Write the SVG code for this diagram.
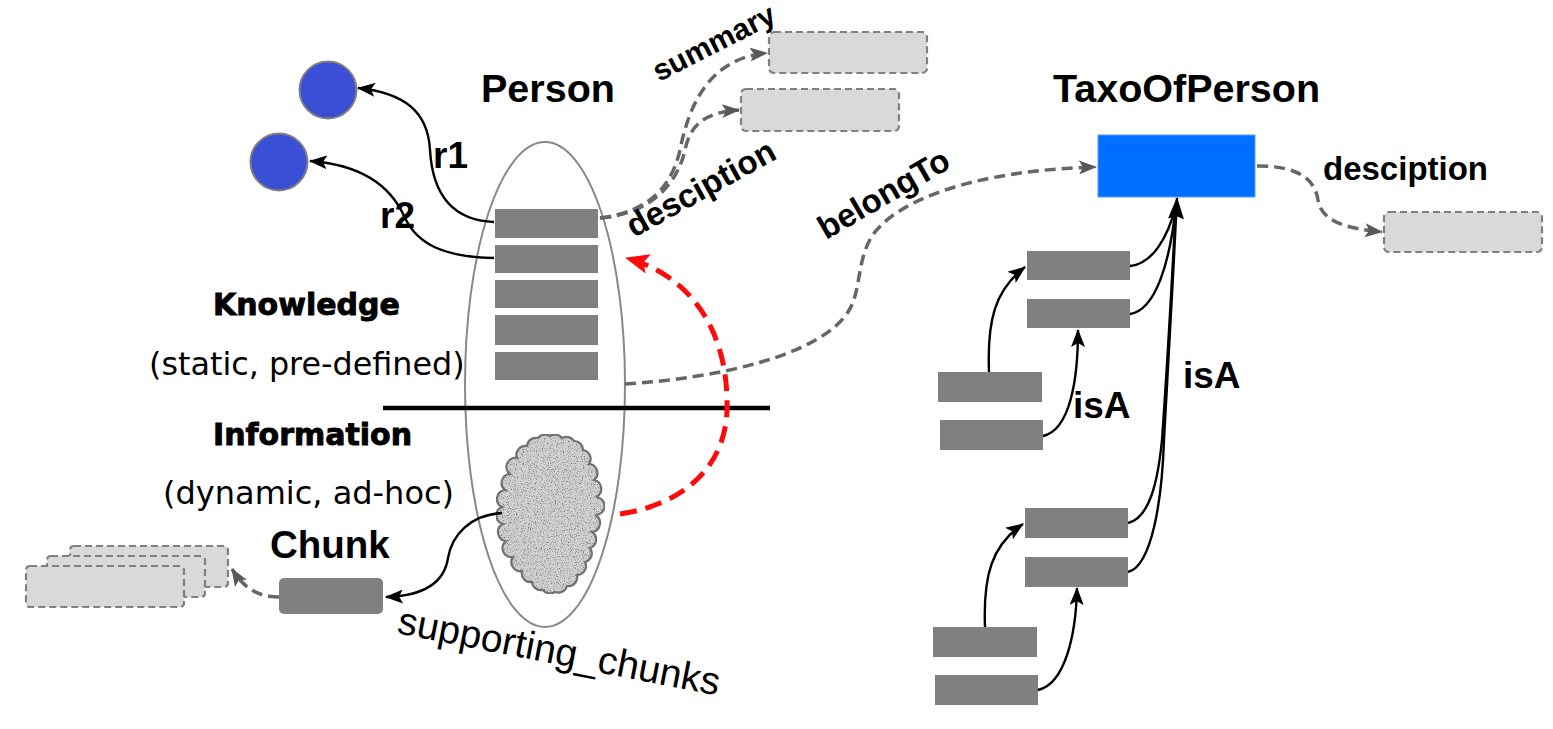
<svg xmlns="http://www.w3.org/2000/svg" width="1553" height="729" viewBox="0 0 1553 729">
<defs>
<style>
.bar{fill:#808080;}
.ghost{fill:#d9d9d9;stroke:#808080;stroke-width:2.2;stroke-dasharray:7 4;}
.dash{fill:none;stroke:#666;stroke-width:3.5;stroke-dasharray:11 6;}
.edge{fill:none;stroke:#000;stroke-width:2.4;}
.red{fill:none;stroke:#ff0a0a;stroke-width:5;stroke-dasharray:17 9;}
.b{font-family:"Liberation Sans",Arial,sans-serif;font-weight:bold;fill:#000;}
.h{font-family:"DejaVu Sans",sans-serif;font-weight:bold;fill:#000;stroke:#000;stroke-width:0.9;}
.r{font-family:"DejaVu Sans",sans-serif;fill:#000;}
.s{font-family:"Liberation Sans",Arial,sans-serif;fill:#000;}
</style>
<marker id="ab" markerUnits="userSpaceOnUse" markerWidth="18" markerHeight="14" refX="17" refY="7" orient="auto"><path d="M0,0 L18,7 L0,14 L4,7 z" fill="#000"/></marker>
<marker id="abig" markerUnits="userSpaceOnUse" markerWidth="22" markerHeight="16" refX="21" refY="8" orient="auto"><path d="M0,0 L22,8 L0,16 L3,8 z" fill="#000"/></marker>
<marker id="ag" markerUnits="userSpaceOnUse" markerWidth="18" markerHeight="14" refX="17" refY="7" orient="auto"><path d="M0,0 L18,7 L0,14 L4,7 z" fill="#595959"/></marker>
<marker id="ar" markerUnits="userSpaceOnUse" markerWidth="24" markerHeight="20" refX="23" refY="10" orient="auto"><path d="M0,0 L24,10 L0,20 L5,10 z" fill="#ff0a0a"/></marker>
<filter id="noise" x="0" y="0" width="100%" height="100%">
<feTurbulence type="fractalNoise" baseFrequency="0.85" numOctaves="2" seed="4" result="t"/>
<feColorMatrix in="t" type="matrix" values="0 0 0 0 0.2  0 0 0 0 0.2  0 0 0 0 0.2  -3.2 0 0 0 1.65" result="n"/>
<feComposite in="n" in2="SourceAlpha" operator="in" result="nc"/>
<feMerge><feMergeNode in="SourceGraphic"/><feMergeNode in="nc"/></feMerge>
</filter>
</defs>
<rect width="1553" height="729" fill="#fff"/>

<g id="person-ellipse"><ellipse cx="545" cy="384.5" rx="80" ry="242.5" fill="none" stroke="#888" stroke-width="2"/></g>
<g id="divider"><line x1="383" y1="408" x2="770" y2="408" stroke="#000" stroke-width="4.5"/></g>

<g id="person-label"><text class="b" x="481" y="102" font-size="39.5">Person</text></g>
<g id="knowledge-label"><text class="h" x="213" y="315" font-size="30">Knowledge</text><text class="r" x="149" y="375" font-size="31.8">(static, pre-defined)</text></g>
<g id="information-label"><text class="h" x="213" y="445" font-size="30">Information</text><text class="r" x="163" y="504" font-size="32">(dynamic, ad-hoc)</text></g>

<g id="attr1"><rect class="bar" x="495" y="209" width="103" height="29"/></g>
<g id="attr2"><rect class="bar" x="495" y="245" width="103" height="28"/></g>
<g id="attr3"><rect class="bar" x="495" y="280" width="103" height="28"/></g>
<g id="attr4"><rect class="bar" x="495" y="315" width="103" height="30"/></g>
<g id="attr5"><rect class="bar" x="495" y="352" width="103" height="28"/></g>

<g id="node-r1"><circle cx="328" cy="90" r="28.5" fill="#3a4fd6" stroke="#808080" stroke-width="2"/></g>
<g id="node-r2"><circle cx="279" cy="162" r="28.5" fill="#3a4fd6" stroke="#808080" stroke-width="2"/></g>

<g id="summary-box"><rect class="ghost" x="769" y="32" width="158" height="41" rx="5"/></g>
<g id="desc-box"><rect class="ghost" x="741" y="89" width="158" height="42" rx="5"/></g>

<g id="cloud">
<path d="M527,446 A9,9 0 0 1 538,438 A9,9 0 0 1 550,436 A9,9 0 0 1 562,438 A9,9 0 0 1 574,441 A9,9 0 0 1 583,450 A9,9 0 0 1 589,464 A9,9 0 0 1 594,480 A9,9 0 0 1 596,497 A9,9 0 0 1 595,515 A9,9 0 0 1 592,532 A9,9 0 0 1 590,548 A9,9 0 0 1 585,562 A9,9 0 0 1 577,575 A9,9 0 0 1 567,586 A9,9 0 0 1 555,592 A9,9 0 0 1 543,590 A9,9 0 0 1 532,582 A9,9 0 0 1 522,571 A9,9 0 0 1 513,557 A9,9 0 0 1 506,541 A9,9 0 0 1 503,524 A9,9 0 0 1 502,507 A9,9 0 0 1 505,490 A9,9 0 0 1 510,474 A9,9 0 0 1 517,458 A9,9 0 0 1 527,446 z" fill="#d2d2d2" stroke="#6e6e6e" stroke-width="2.2" filter="url(#noise)"/>
</g>

<g id="chunk"><rect x="279" y="578" width="104" height="36" rx="5" fill="#808080"/><text class="b" x="270" y="558" font-size="38.5">Chunk</text></g>
<g id="chunk-stack">
<rect class="ghost" x="70" y="546" width="158" height="41" rx="4"/>
<rect class="ghost" x="47" y="556" width="158" height="41" rx="4"/>
<rect class="ghost" x="26" y="566" width="158" height="41" rx="4"/>
</g>

<g id="taxo"><rect x="1098" y="135" width="157" height="62" fill="#006eff" stroke="#5a9dff" stroke-width="1"/><text class="b" x="1053" y="102" font-size="39.5">TaxoOfPerson</text></g>
<g id="taxo-desc-box"><rect class="ghost" x="1384" y="212" width="158" height="40" rx="5"/></g>

<g id="sub-a"><rect class="bar" x="1027" y="251" width="103" height="29"/></g>
<g id="sub-b"><rect class="bar" x="1027" y="299" width="103" height="29"/></g>
<g id="sub-c"><rect class="bar" x="938" y="372" width="104" height="30"/></g>
<g id="sub-d"><rect class="bar" x="940" y="420" width="103" height="30"/></g>
<g id="sub-e"><rect class="bar" x="1025" y="508" width="103" height="30"/></g>
<g id="sub-f"><rect class="bar" x="1025" y="557" width="103" height="30"/></g>
<g id="sub-g"><rect class="bar" x="933" y="627" width="104" height="30"/></g>
<g id="sub-h"><rect class="bar" x="935" y="675" width="103" height="30"/></g>

<g id="connectors">
<path class="edge" d="M494,222 C445,220 432,185 430,150 C428,112 405,93 358,88" marker-end="url(#ab)"/>
<path class="edge" d="M494,258 C445,257 418,245 405,218 C392,188 365,165 310,161" marker-end="url(#ab)"/>
<path class="dash" d="M600,218 C650,212 672,185 680,150 C690,100 712,58 767,53" marker-end="url(#ag)"/>
<path class="dash" d="M600,218 C652,214 678,182 685,150 C690,125 705,112 739,110" marker-end="url(#ag)"/>
<path class="red" d="M620,514 C680,505 725,470 727,410 C729,330 690,275 626,258" marker-end="url(#ar)"/>
<path class="dash" d="M625,384 C720,378 820,355 848,312 C862,290 856,262 872,236 C898,198 980,170 1096,167" marker-end="url(#ag)"/>
<path class="dash" d="M1257,166 C1300,166 1315,180 1318,200 C1322,222 1345,228 1382,232" marker-end="url(#ag)"/>
<path class="edge" d="M502,513 C470,515 452,535 448,558 C444,585 420,596 386,597" marker-end="url(#ab)"/>
<path class="dash" d="M279,597 C260,597 245,590 232,569" marker-end="url(#ag)"/>
<path class="edge" d="M989,372 C987,320 995,290 1025,267" marker-end="url(#ab)"/>
<path class="edge" d="M1043,436 C1070,430 1078,380 1078,330" marker-end="url(#ab)"/>
<path class="edge" d="M985,627 C983,575 992,545 1023,524" marker-end="url(#ab)"/>
<path class="edge" d="M1038,690 C1065,684 1076,635 1077,588" marker-end="url(#ab)"/>
<path class="edge" d="M1130,266 C1152,264 1168,238 1176,205"/>
<path class="edge" d="M1130,314 C1156,310 1170,262 1176,205"/>
<path class="edge" d="M1128,523 C1150,518 1158,480 1162,440 C1167,370 1172,280 1176,205"/>
<path class="edge" d="M1128,572 C1152,566 1162,500 1164,440 C1168,370 1173,280 1177,198" marker-end="url(#abig)"/>
<text class="b" x="433" y="168" font-size="37">r1</text>
<text class="b" x="380" y="228" font-size="37">r2</text>
<text class="b" x="659" y="82" font-size="30" transform="rotate(-27 659 82)">summary</text>
<text class="b" x="634" y="238" font-size="33" transform="rotate(-29 634 238)">desciption</text>
<text class="b" x="826" y="240" font-size="33" transform="rotate(-30 826 240)">belongTo</text>
<text class="b" x="1323" y="180" font-size="33">desciption</text>
<text class="b" x="1073" y="418" font-size="37">isA</text>
<text class="b" x="1183" y="388" font-size="37">isA</text>
<text class="s" x="396" y="633" font-size="39" transform="rotate(11 396 633)">supporting_chunks</text>
</g>
</svg>
